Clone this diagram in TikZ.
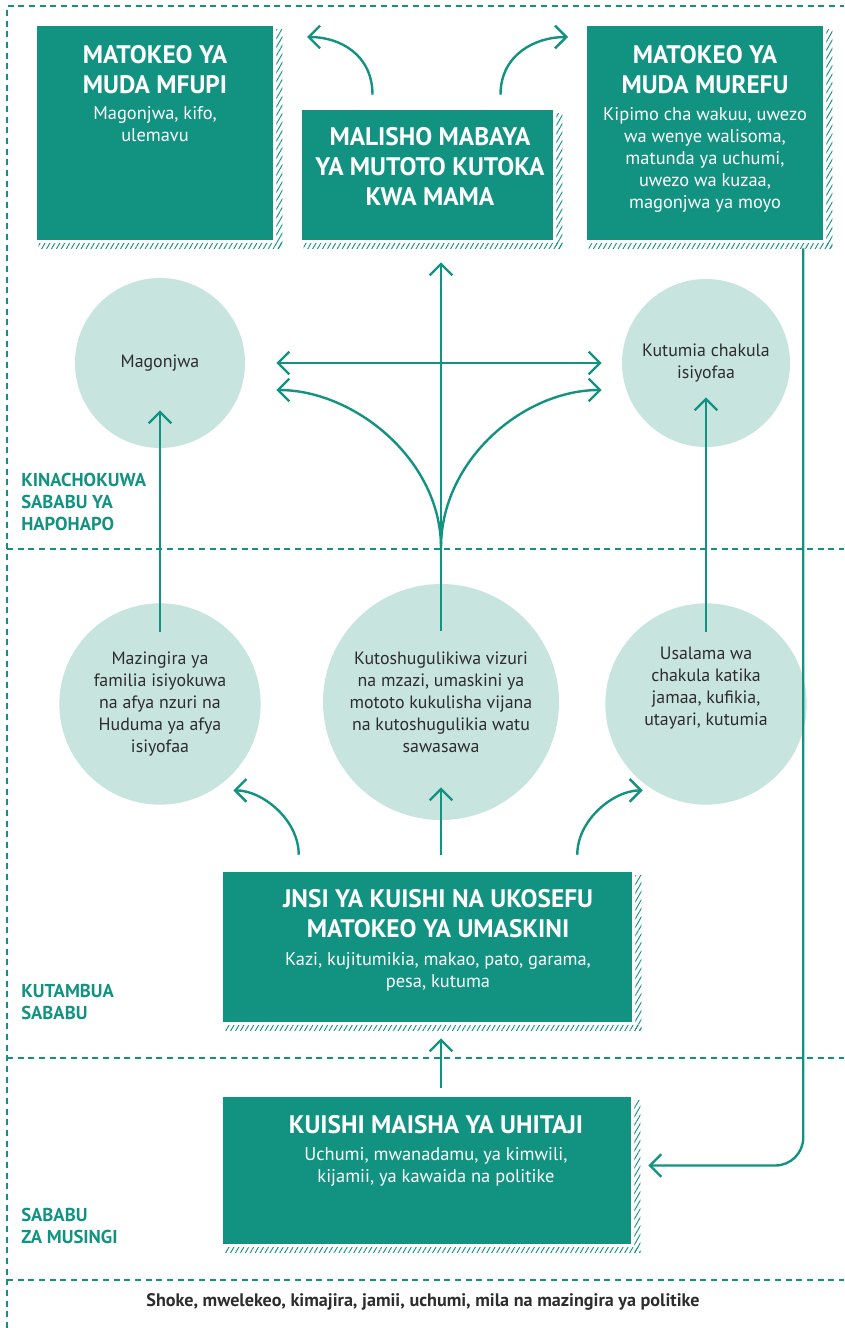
\documentclass[tikz,border=0pt]{standalone}
\usepackage{fontspec}
\setmainfont{PT Sans}
\usetikzlibrary{positioning,fit,calc,arrows.meta,patterns.meta}

\definecolor{tealbox}{RGB}{18,147,130}
\definecolor{mint}{RGB}{200,228,223}
\definecolor{ink}{RGB}{45,45,45}

\tikzset{
  box/.style={fill=tealbox, draw=none, inner sep=0pt},
  hatch/.style={pattern={Lines[angle=60, distance=3.2pt, line width=0.7pt]}, pattern color=tealbox},
  circ/.style={circle, fill=mint, inner sep=0pt, align=center, text=ink, font=\fontsize{13.4}{16.5}\selectfont},
  circtext/.style={inner sep=0pt, align=center, text=ink, font=\fontsize{13.4}{16.5}\selectfont},
  ttl/.style={anchor=north, text=white, align=center, inner sep=0pt, font=\bfseries\fontsize{19}{22.5}\selectfont},
  sub/.style={anchor=north, text=white, align=center, inner sep=0pt, font=\fontsize{13.8}{16.5}\selectfont},
  lvl/.style={anchor=north west, text=tealbox, align=left, inner sep=0pt, font=\bfseries\fontsize{14}{16.5}\selectfont},
  foot/.style={text=ink, inner sep=0pt, font=\bfseries\fontsize{13.6}{16}\selectfont},
  sep/.style={draw=tealbox, line width=1.6pt, dash pattern=on 4.5pt off 3.5pt},
  arr/.style={draw=tealbox, line width=1.8pt, -{Straight Barb[length=8.5pt, width=17pt]}},
  arrboth/.style={draw=tealbox, line width=1.8pt, {Straight Barb[length=8.5pt, width=17pt]}-{Straight Barb[length=8.5pt, width=17pt]}}
}

\begin{document}
\begin{tikzpicture}[x=0.75pt, y=-0.75pt]
\useasboundingbox (0,0) rectangle (844,1328);

%Dashed frame and level lines
\draw[sep] (7,1328) -- (7,6) -- (844,6);
\draw[sep] (7,549) -- (844,549);
\draw[sep] (7,1058) -- (844,1058);
\draw[sep] (7,1280) -- (844,1280);

%Boxes
\node[box, fit={(37,26) (273,240)}] (stbox) {};
\node[box, fit={(302,110) (553,240)}] (midbox) {};
\node[box, fit={(587,26) (823,240)}] (ltbox) {};
\node[box, fit={(223,872) (632,1022)}] (povbox) {};
\node[box, fit={(223,1097) (631,1244)}] (needbox) {};

%Hatched shadows
\foreach \b in {stbox,midbox,ltbox,povbox,needbox}{
  \fill[hatch] ($(\b.north east)+(3,4)$) rectangle ($(\b.south east)+(9,8)$);
  \fill[hatch] ($(\b.south west)+(2,3)$) rectangle ($(\b.south east)+(9,8)$);
}

% Text Node
\node[ttl] (sttitle) at (155,45) {MATOKEO YA\\MUDA MFUPI};
\node[sub] (sttext) at (155,106) {Magonjwa, kifo,\\ulemavu};
\node[ttl] (midtitle) at (430,127) {MALISHO MABAYA\\YA MUTOTO KUTOKA\\KWA MAMA};
\node[ttl] (lttitle) at (705,45) {MATOKEO YA\\MUDA MUREFU};
\node[sub] (lttext) at (705,107) {Kipimo cha wakuu, uwezo\\wa wenye walisoma,\\matunda ya uchumi,\\uwezo wa kuzaa,\\magonjwa ya moyo};
\node[ttl] (povtitle) at (438,889) {JNSI YA KUISHI NA UKOSEFU\\MATOKEO YA UMASKINI};
\node[sub] (povtext) at (438,952) {Kazi, kujitumikia, makao, pato, garama,\\pesa, kutuma};
\node[ttl] (needtitle) at (436,1115) {KUISHI MAISHA YA UHITAJI};
\node[sub] (needtext) at (436,1147) {Uchumi, mwanadamu, ya kimwili,\\kijamii, ya kawaida na politike};

%Circles
\node[circ, minimum size=127.5pt] (mgcirc) at (160,363) {Magonjwa};
\node[circ, minimum size=126pt] (foodcirc) at (706,363) {Kutumia chakula\\isiyofaa};
\node[circ, minimum size=151pt] (envcirc) at (160,704) {Mazingira ya\\familia isiyokuwa\\na afya nzuri na\\Huduma ya afya\\isiyofaa};
\node[circ, minimum size=177pt] (carecirc) at (441,702) {Kutoshugulikiwa vizuri\\na mzazi, umaskini ya\\mototo kukulisha vijana\\na kutoshugulikia watu\\sawasawa};
\node[circ, minimum size=151pt] (seccirc) at (706,704) {};
\node[circtext] (sectext) at (706,688) {Usalama wa\\chakula katika\\jamaa, kufikia,\\utayari, kutumia};

%Level labels
\node[lvl] (lvlnow) at (21,473) {KINACHOKUWA\\SABABU YA\\HAPOHAPO};
\node[lvl] (lvlunder) at (21,984) {KUTAMBUA\\SABABU};
\node[lvl] (lvlbase) at (21,1208) {SABABU\\ZA MUSINGI};
\node[foot] (context) at (423,1302) {Shoke, mwelekeo, kimajira, jamii, uchumi, mila na mazingira ya politike};

%Arrows out of the middle box
\coordinate (upl) at (307,37);
\coordinate (upr) at (568,37);
\draw[arr] ($(midbox.north)+(-55,-15)$) .. controls +(0,-40) and +(33,0) .. (upl);
\draw[arr] ($(midbox.north)+(73,-15)$) .. controls +(0,-40) and +(-33,0) .. (upr);

%Immediate causes
\coordinate (fork) at ($(carecirc.north)+(0,-36)$);
\draw[arr] ($(carecirc.north)+(0,47)$) -- ($(carecirc.north |- midbox.south)+(0,22)$);
\draw[arrboth] ($(mgcirc.east)+(31,0)$) -- ($(foodcirc.west)+(-20,0)$);
\draw[arr] (fork) .. controls +(0,-88) and +(78,0) .. ($(mgcirc.east)+(31,27)$);
\draw[arr] (fork) .. controls +(0,-88) and +(-78,0) .. ($(foodcirc.west)+(-20,27)$);
\draw[arr] ($(envcirc.north)+(0,29)$) -- ($(mgcirc.south)+(0,-38)$);
\draw[arr] ($(seccirc.north)+(0,29)$) -- ($(foodcirc.south)+(0,-50)$);

%Underlying and basic causes
\draw[arr] ($(povbox.north west)+(76,-17)$) .. controls +(0,-35) and +(29,0) .. ($(envcirc.south east)+(2,15)$);
\draw[arr] ($(povbox.north east)+(-55,-17)$) .. controls +(0,-35) and +(-29,0) .. ($(seccirc.south west)+(8,15)$);
\draw[arr] ($(povbox.north -| carecirc)+(0,-17)$) -- ($(carecirc.south)+(0,-33)$);
\draw[arr] ($(needbox.north -| carecirc)+(0,-9)$) -- ($(povbox.south -| carecirc)+(0,16)$);
\draw[arr, rounded corners=21pt] ($(ltbox.south east)+(-20,8)$) |- ($(needbox.east)+(17,-5)$);

\end{tikzpicture}
\end{document}
